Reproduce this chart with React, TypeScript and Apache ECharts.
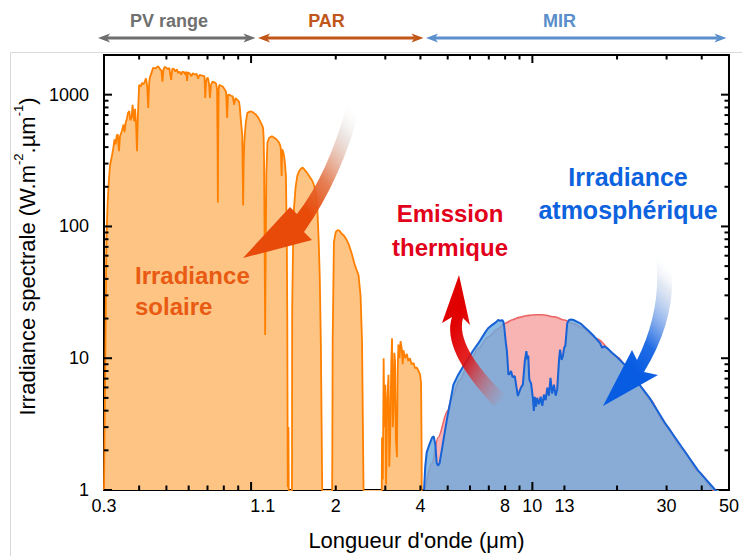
import React, { useEffect, useRef } from "react";
import * as echarts from "echarts";

// ---------- data ----------
const solarLambda = [
  0.300, 0.303, 0.306, 0.309, 0.312, 0.315, 0.319, 0.323, 0.327, 0.330, 0.333, 0.336, 0.339, 0.342, 0.347, 0.352,
  0.355, 0.358, 0.362, 0.365, 0.369, 0.372, 0.376, 0.379, 0.382, 0.384, 0.387, 0.390, 0.393, 0.396, 0.400, 0.405,
  0.410, 0.415, 0.419, 0.423, 0.427, 0.431, 0.434, 0.436, 0.442, 0.448, 0.455, 0.461, 0.468, 0.475, 0.480, 0.484,
  0.488, 0.493, 0.500, 0.506, 0.512, 0.516, 0.520, 0.524, 0.530, 0.538, 0.545, 0.550, 0.557, 0.565, 0.570, 0.578,
  0.584, 0.588, 0.592, 0.596, 0.605, 0.613, 0.621, 0.630, 0.640, 0.648, 0.656, 0.665, 0.675, 0.683, 0.687, 0.692,
  0.698, 0.703, 0.709, 0.714, 0.720, 0.729, 0.740, 0.750, 0.757, 0.760, 0.762, 0.764, 0.767, 0.771, 0.782, 0.793,
  0.805, 0.815, 0.822, 0.828, 0.838, 0.850, 0.861, 0.870, 0.880, 0.893, 0.906, 0.912, 0.918, 0.925, 0.930, 0.934,
  0.937, 0.941, 0.946, 0.950, 0.958, 0.970, 0.985, 0.999, 1.015, 1.040, 1.060, 1.084, 1.096, 1.103, 1.108, 1.112,
  1.117, 1.122, 1.127, 1.133, 1.143, 1.160, 1.185, 1.209, 1.235, 1.258, 1.270, 1.275, 1.284, 1.290, 1.300, 1.310,
  1.320, 1.330, 1.340, 1.345, 1.350, 1.358, 1.365, 1.390, 1.398, 1.400, 1.410, 1.420, 1.440, 1.460, 1.480, 1.500,
  1.520, 1.545, 1.560, 1.580, 1.610, 1.650, 1.680, 1.700, 1.720, 1.740, 1.755, 1.770, 1.790, 1.800, 1.930, 1.945,
  1.950, 1.970, 2.000, 2.030, 2.060, 2.100, 2.140, 2.180, 2.230, 2.280, 2.340, 2.410, 2.450, 2.480, 2.510, 2.520,
  2.900, 2.920, 2.940, 2.960, 2.980, 3.000, 3.020, 3.050, 3.080, 3.100, 3.120, 3.150, 3.170, 3.190, 3.210, 3.230,
  3.250, 3.270, 3.300, 3.320, 3.340, 3.370, 3.400, 3.430, 3.460, 3.480, 3.530, 3.580, 3.620, 3.670, 3.720, 3.780,
  3.830, 3.880, 3.940, 3.990, 4.020, 4.040, 4.050,
];
const solarIrr = [
  1.0, 8, 80, 150, 220, 290, 330, 380, 457, 420, 490, 499, 373, 484, 528, 593,
  520, 611, 660, 727, 750, 640, 667, 839, 700, 626, 780, 600, 373, 700, 1188, 1150,
  1230, 1200, 1255, 1330, 1180, 793, 1200, 1334, 1450, 1595, 1580, 1610, 1640, 1560, 1530, 1255,
  1540, 1625, 1600, 1560, 1595, 1420, 1295, 1560, 1580, 1500, 1560, 1460, 1496, 1420, 1500, 1480,
  1420, 1496, 1270, 1480, 1450, 1380, 1456, 1420, 1440, 1320, 1413, 1400, 1390, 1375, 943, 1260,
  1340, 1334, 1200, 943, 1180, 1255, 1240, 1222, 1100, 400, 152, 450, 1100, 1188, 1170, 1153,
  1100, 1050, 667, 1000, 998, 980, 970, 839, 943, 915, 886, 800, 667, 560, 499, 260,
  144, 300, 430, 499, 620, 727, 740, 747, 735, 706, 670, 611, 580, 557, 480, 320,
  80, 15, 60, 250, 432, 471, 484, 471, 455, 432, 410, 395, 242, 385, 370, 343,
  300, 242, 76, 20, 1.05, 3, 0.2, 0.1, 1.5, 23.9, 70, 136, 200, 242, 262, 272,
  280, 272, 264, 256, 240, 222, 200, 175, 136, 76, 40, 13.4, 1.05, 0.1, 0.1, 2,
  13.4, 76, 90.5, 94, 93, 88, 85, 80, 72, 62, 50.6, 42.6, 30, 13.4, 1.05, 0.1,
  0.1, 2.5, 1.2, 10, 3, 6.3, 1.1, 5, 7.5, 1.5, 2.4, 9, 14.2, 3, 4.2, 11,
  9.5, 2.5, 1.77, 8, 12.7, 10, 13.5, 12, 9, 11.5, 10, 10.8, 9.5, 10, 9, 9.2,
  8.4, 8.5, 8, 7.5, 6.5, 2, 0.1,
];

const emissionLambda = [
  4.15, 4.40, 4.62, 5.00, 5.17, 5.50, 6.00, 6.43, 7.00, 7.50, 8.00, 8.50, 9.00, 9.50, 10.0, 10.5,
  11.0, 12.0, 13.0, 14.0, 15.0, 17.0, 20.0, 23.5, 26.1, 29.8, 34.0, 38.8, 44.7, 46.0,
];
const emissionIrr = [
  1.0, 1.6, 2.5, 4.0, 5.0, 6.8, 9.6, 11.9, 14.6, 16.6, 18.4, 19.6, 20.4, 21.0, 21.3, 21.4,
  21.3, 20.6, 19.5, 18.3, 17.0, 14.0, 10.2, 6.6, 4.9, 3.1, 2.05, 1.38, 0.97, 0.9,
];

const atmLambda = [
  4.12, 4.16, 4.21, 4.30, 4.40, 4.46, 4.52, 4.57, 4.62, 4.68, 4.78, 4.89, 5.00, 5.10, 5.24, 5.45,
  5.70, 5.92, 6.15, 6.43, 6.77, 6.96, 7.20, 7.43, 7.56, 7.70, 7.80, 7.88, 7.94, 8.05, 8.12, 8.22,
  8.30, 8.40, 8.50, 8.66, 8.78, 8.88, 9.00, 9.10, 9.25, 9.40, 9.52, 9.60, 9.67, 9.75, 9.90, 10.04,
  10.12, 10.20, 10.30, 10.40, 10.56, 10.70, 10.85, 10.99, 11.15, 11.30, 11.45, 11.60, 11.75, 11.93, 12.10, 12.25,
  12.45, 12.55, 12.70, 12.85, 12.97, 13.10, 13.30, 13.50, 13.75, 14.00, 14.80, 15.90, 16.60, 17.00, 17.40, 17.70,
  18.00, 18.40, 19.20, 20.00, 21.20, 23.50, 26.10, 29.80, 34.00, 38.80, 44.70, 46.00,
];
const atmIrr = [
  1.0, 1.5, 1.93, 2.2, 2.5, 2.55, 2.2, 1.6, 1.53, 1.6, 2.1, 2.82, 3.7, 4.6, 6.3, 7.5,
  8.8, 10.0, 11.4, 13.0, 15.5, 16.9, 17.9, 18.8, 19.5, 19.2, 19.5, 19.0, 17.4, 13, 11.3, 7.5,
  7.6, 8.0, 7.2, 7.3, 6.0, 5.17, 5.6, 5.97, 6.3, 9.5, 11.3, 9.8, 10.5, 6.9, 6.4, 5.0,
  3.98, 5.1, 4.3, 5.0, 4.47, 5.1, 4.35, 5.3, 4.8, 5.97, 5.2, 7.1, 5.4, 6.3, 5.2, 5.8,
  10.0, 11.6, 9.7, 10.5, 12.0, 12.5, 18.4, 19.5, 19.7, 19.5, 18.4, 16.0, 14.6, 13.8, 13.0, 12.0,
  12.3, 12.0, 11.0, 10.2, 9.0, 6.7, 5.0, 3.16, 2.11, 1.41, 1.0, 0.9,
];

const xLabelValues = [0.3, 1.1, 2, 4, 8, 10, 13, 30, 50];
const xLabelTexts = ["0.3", "1.1", "2", "4", "8", "10", "13", "30", "50"];
const xMajorTicks = [1, 10];
const xMinorTicksBottom = [0.4, 0.5, 0.6, 0.7, 0.8, 0.9, 2, 3, 4, 5, 6, 7, 8, 9, 13, 20, 30, 40];
const xMinorTicksTop = [0.4, 0.5, 0.6, 0.7, 0.8, 0.9, 2, 3, 4, 5, 6, 7, 8, 9, 20, 30, 40];
const yLabelValues = [1, 10, 100, 1000];
const yMinorTicks = [2, 3, 4, 5, 6, 7, 8, 9, 20, 30, 40, 50, 60, 70, 80, 90, 200, 300, 400, 500, 600, 700, 800, 900];

const rangeNames = ["PV range", "PAR", "MIR"];

const X_MIN = 0.3;
const X_MAX = 50;
const Y_MIN = 1;
const Y_MAX = 2000;

// ---------- styling ----------
const FONT = "'Liberation Sans', Arial, Helvetica, sans-serif";

echarts.graphic.registerShape(
  "arrowOrange",
  echarts.graphic.extendPath("M 347 105 Q 328 174 297 214 L 290 207 L 243 258 L 312 240 L 304 232 Q 342 178 361 105 Z", {})
);
echarts.graphic.registerShape(
  "arrowRed",
  echarts.graphic.extendPath("M 459 275 L 470 325 L 463 318 Q 455 347 506 396 L 494 406 Q 441 350 452 317 L 442 323 Z", {})
);
echarts.graphic.registerShape(
  "arrowBlue",
  echarts.graphic.extendPath("M 603 406 L 632 350 L 637 360 Q 664 306 655 248 L 669 248 Q 682 310 644 372 L 658 375 Z", {})
);

function pair(xs: number[], ys: number[]) {
  return xs.map((x, i) => [x, ys[i]]);
}

// tick marks: positions come from the chart's own scales (convertToPixel)
function buildTickGraphics(chart: any) {
  const els: any[] = [];
  const px = (x: number, y: number) => {
    try {
      return chart.convertToPixel({ xAxisIndex: 0, yAxisIndex: 0 }, [x, y]);
    } catch (e) {
      return null;
    }
  };
  const add = (p: number[] | null, dx: number, dy: number) => {
    if (!p || !isFinite(p[0]) || !isFinite(p[1])) return;
    els.push({
      type: "line",
      z: 40,
      silent: true,
      shape: { x1: p[0], y1: p[1], x2: p[0] + dx, y2: p[1] + dy },
      style: { stroke: "#000", lineWidth: 2 },
    });
  };
  xMajorTicks.forEach((v) => { add(px(v, Y_MIN), 0, -8); add(px(v, Y_MAX), 0, 8); });
  xMinorTicksBottom.forEach((v) => add(px(v, Y_MIN), 0, -4.5));
  xMinorTicksTop.forEach((v) => add(px(v, Y_MAX), 0, 4.5));
  yLabelValues.forEach((v) => { add(px(X_MIN, v), 8, 0); add(px(X_MAX, v), -8, 0); });
  yMinorTicks.forEach((v) => { add(px(X_MIN, v), 4.5, 0); add(px(X_MAX, v), -4.5, 0); });
  return els;
}

function dblArrow(x1: number, x2: number, y: number, color: string) {
  const hl = 12;
  const hw = 4.5;
  return [
    { type: "line", z: 50, shape: { x1: x1 + hl - 3, y1: y, x2: x2 - hl + 3, y2: y }, style: { stroke: color, lineWidth: 3 } },
    { type: "polygon", z: 50, shape: { points: [[x1, y], [x1 + hl, y - hw], [x1 + hl - 3, y], [x1 + hl, y + hw]] }, style: { fill: color } },
    { type: "polygon", z: 50, shape: { points: [[x2, y], [x2 - hl, y - hw], [x2 - hl + 3, y], [x2 - hl, y + hw]] }, style: { fill: color } },
  ];
}

function label(text: string, x: number, y: number, color: string, size: number, align: string, lh: number) {
  return {
    type: "text",
    z: 60,
    x,
    y,
    style: {
      text,
      fill: color,
      fontFamily: FONT,
      fontWeight: "bold",
      fontSize: size,
      align,
      verticalAlign: "middle",
      lineHeight: lh,
    },
  };
}

function buildOption(extraGraphics: any[]) {
  const graphics: any[] = [
    { type: "rect", z: -1, shape: { x: 10.5, y: 52.5, width: 760, height: 520 }, style: { fill: "none", stroke: "#d9d9d9", lineWidth: 1 } },
    ...dblArrow(98, 255.5, 38, "#6f6f6f"),
    ...dblArrow(258, 423.5, 38, "#c25618"),
    ...dblArrow(426, 726.5, 38, "#5b90cc"),
    label(rangeNames[0], 169, 21, "#707070", 18, "center", 20),
    label(rangeNames[1], 326.5, 21, "#c0561a", 18, "center", 20),
    label(rangeNames[2], 559.5, 21, "#5a8fcb", 18, "center", 20),
    {
      type: "arrowOrange",
      z: 55,
      style: {
        fill: new echarts.graphic.LinearGradient(0.95, 0, 0.3, 0.75, [
          { offset: 0, color: "rgba(255,255,255,0)" },
          { offset: 0.2, color: "rgba(215,205,200,0.45)" },
          { offset: 0.55, color: "rgba(226,105,55,0.85)" },
          { offset: 0.8, color: "rgba(232,74,10,1)" },
          { offset: 1, color: "rgba(232,74,10,1)" },
        ]),
      },
    },
    {
      type: "arrowRed",
      z: 55,
      style: {
        fill: new echarts.graphic.LinearGradient(0.3, 0.25, 0.95, 1, [
          { offset: 0, color: "rgba(225,0,0,1)" },
          { offset: 0.35, color: "rgba(225,10,10,0.9)" },
          { offset: 1, color: "rgba(215,110,110,0)" },
        ]),
      },
    },
    {
      type: "arrowBlue",
      z: 55,
      style: {
        fill: new echarts.graphic.LinearGradient(0.75, 0, 0.3, 1, [
          { offset: 0, color: "rgba(255,255,255,0)" },
          { offset: 0.15, color: "rgba(200,212,232,0.5)" },
          { offset: 0.55, color: "rgba(20,100,228,0.95)" },
          { offset: 0.75, color: "rgba(8,92,226,1)" },
          { offset: 1, color: "rgba(8,92,226,1)" },
        ]),
      },
    },
    label("Irradiance\nsolaire", 135, 290.5, "#e95a12", 24, "left", 31),
    label("Emission\nthermique", 450, 230, "#e2001a", 24, "center", 34),
    label("Irradiance\natmosphérique", 628, 193.5, "#0d62dd", 25, "center", 33),
    ...extraGraphics,
  ];

  return {
    animation: false,
    backgroundColor: "#ffffff",
    textStyle: { fontFamily: FONT },
    grid: {
      left: 104,
      top: 55,
      width: 628,
      height: 438,
      show: true,
      borderColor: "#000",
      borderWidth: 2,
      backgroundColor: "transparent",
      containLabel: false,
    },
    xAxis: {
      type: "log",
      logBase: 10,
      min: X_MIN,
      max: X_MAX,
      position: "bottom",
      axisLine: { show: true, onZero: false, lineStyle: { color: "#000", width: 2 } },
      axisTick: { show: false },
      splitLine: { show: false },
      axisLabel: {
        show: true,
        customValues: xLabelValues,
        margin: 7,
        fontSize: 18,
        color: "#000",
        fontFamily: FONT,
        formatter: (v: number) => {
          let best = 0;
          let bd = Infinity;
          xLabelValues.forEach((t, i) => {
            const d = Math.abs(Math.log(v) - Math.log(t));
            if (d < bd) { bd = d; best = i; }
          });
          return xLabelTexts[best];
        },
      },
      name: "Longueur d'onde (μm)",
      nameLocation: "middle",
      nameGap: 39,
      nameTextStyle: { fontSize: 22, color: "#000", fontFamily: FONT },
    },
    yAxis: {
      type: "log",
      logBase: 10,
      min: Y_MIN,
      max: Y_MAX,
      position: "left",
      axisLine: { show: true, onZero: false, lineStyle: { color: "#000", width: 2 } },
      axisTick: { show: false },
      splitLine: { show: false },
      axisLabel: {
        show: true,
        customValues: yLabelValues,
        margin: 15,
        fontSize: 18,
        color: "#000",
        fontFamily: FONT,
        formatter: (v: number) => String(Math.round(v)),
      },
      name: "{a|Irradiance spectrale (W.m}{s|-2}{a|.µm}{s|-1}{a|)}",
      nameLocation: "middle",
      nameGap: 60,
      nameTextStyle: {
        color: "#000",
        fontFamily: FONT,
        fontSize: 22,
        padding: [0, 0, 0, 32],
        rich: {
          a: { fontSize: 22, fontFamily: FONT, color: "#000", lineHeight: 26, verticalAlign: "bottom" },
          s: { fontSize: 13, fontFamily: FONT, color: "#000", lineHeight: 12, verticalAlign: "top" },
        },
      },
    },
    series: [
      {
        name: "Irradiance solaire",
        type: "line",
        data: pair(solarLambda, solarIrr),
        showSymbol: false,
        symbol: "none",
        clip: true,
        lineStyle: { color: "#ff8000", width: 1.8 },
        areaStyle: { color: "#fdc484", opacity: 1 },
        z: 2,
      },
      {
        name: "Emission thermique",
        type: "line",
        data: pair(emissionLambda, emissionIrr),
        showSymbol: false,
        symbol: "none",
        smooth: 0.3,
        smoothMonotone: "x",
        clip: true,
        lineStyle: { color: "#ec6565", width: 1.6 },
        areaStyle: { color: "#f8b3b3", opacity: 1 },
        z: 3,
      },
      {
        name: "Irradiance atmosphérique",
        type: "line",
        data: pair(atmLambda, atmIrr),
        showSymbol: false,
        symbol: "none",
        clip: true,
        lineStyle: { color: "#1762d6", width: 2 },
        areaStyle: { color: "rgb(108,170,223)", opacity: 0.8 },
        z: 4,
      },
    ],
    graphic: { elements: graphics },
  };
}

export default function App() {
  const ref = useRef<HTMLDivElement>(null);
  useEffect(() => {
    if (!ref.current) return;
    const chart = echarts.init(ref.current, null, { renderer: "svg", width: 742, height: 556 });
    chart.setOption(buildOption([]) as any);
    const ticks = buildTickGraphics(chart);
    chart.setOption(buildOption(ticks) as any, { notMerge: true });
    return () => chart.dispose();
  }, []);
  return (
    <div
      ref={ref}
      style={{ position: "fixed", left: 0, top: 0, width: 742, height: 556, background: "#fff" }}
    />
  );
}
